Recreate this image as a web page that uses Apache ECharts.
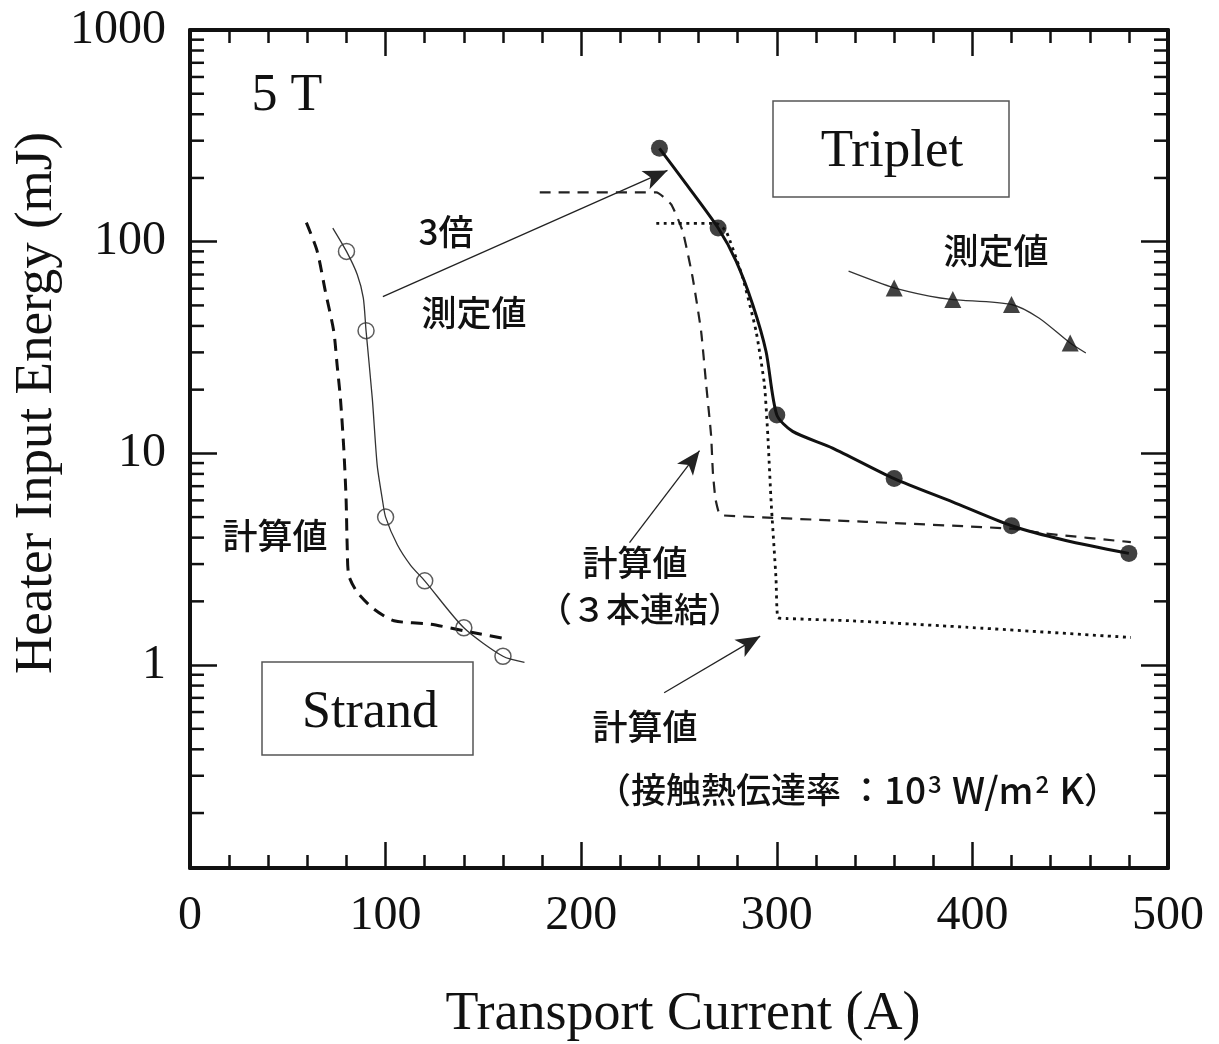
<!DOCTYPE html>
<html>
<head>
<meta charset="utf-8">
<script src="https://cdn.jsdelivr.net/npm/echarts@6/dist/echarts.min.js"></script>
<style>
html, body { margin: 0; padding: 0; background: #fff; }
#chart { width: 1219px; height: 1044px; }
</style>
</head>
<body>
<div id="chart"></div>
<script>
// 刻度
var xTicks = [0, 100, 200, 300, 400, 500];
var yTickLabels = [1, 10, 100, 1000];
var yMinorDecades = [0.1, 1, 10, 100];
var yMinorSteps = [2, 3, 4, 5, 6, 7, 8, 9];

// Strand 測定値 (○) と曲線
var strandMeasI = [80, 90, 100, 120, 140, 160];
var strandMeasE = [90, 38, 5.0, 2.5, 1.5, 1.1];
var strandCurveI = [73, 80, 85.5, 88.6, 90, 93.2, 95.7, 98.3, 100, 106, 112.8, 120, 140, 160, 171];
var strandCurveE = [116, 90, 70, 54.3, 38, 18.2, 8.8, 6.1, 5.0, 3.7, 2.96, 2.5, 1.5, 1.1, 1.03];
// Strand 計算値 (破線)
var strandCalcI = [59.5, 65, 69.2, 73.5, 75.2, 76.9, 78.6, 79.8, 80.4, 81.2, 85.5, 94, 104.3, 123.1, 140.2, 161.5];
var strandCalcE = [123, 90.3, 58.3, 37.7, 26.2, 18.2, 10.6, 6.1, 3.55, 2.65, 2.21, 1.84, 1.62, 1.56, 1.45, 1.33];

// Triplet 測定値 (●) と曲線
var tripMeasI = [240, 270, 300, 360, 420, 480];
var tripMeasE = [276, 116, 15.2, 7.6, 4.55, 3.37];
var tripCurveI = [240, 253.7, 270, 279.2, 287.7, 294.5, 300, 308.1, 328.5, 360, 389.8, 420, 447.7, 480];
var tripCurveE = [276, 187, 116, 81, 50.4, 30.3, 15.2, 12.7, 10.6, 7.6, 5.9, 4.55, 3.88, 3.37];
// Triplet 測定値 (▲)
var tripTriI = [360, 390, 420, 450];
var tripTriE = [60.5, 53.3, 50.5, 33.2];
var tripTriCurveI = [336.7, 360, 378, 390, 420, 434, 450, 458];
var tripTriCurveE = [72.6, 60.5, 55.3, 53.3, 50.5, 43.6, 33.2, 29.8];
// Triplet 計算値 (3本連結, 破線)
var trip3I = [178.8, 238.4, 246, 251.9, 257, 261.3, 263.9, 266.4, 267.3, 268.6, 270.2, 271.5, 345.6, 419.8, 437.5, 481];
var trip3E = [171, 171, 150, 112, 67.5, 37.8, 21.1, 12.2, 8.19, 6.12, 5.31, 5.10, 4.75, 4.41, 4.18, 3.81];
// Triplet 計算値 (接触熱伝達率, 点線)
var tripCI = [238.4, 269, 274.1, 282.6, 289.4, 293.7, 295.4, 297.1, 299.6, 300.5, 304.7, 337.1, 396.7, 481];
var tripCE = [122, 122, 112, 67.5, 37.8, 21.1, 12.2, 5.9, 2.56, 1.68, 1.66, 1.62, 1.51, 1.35];

// 矢印 (始点 -> 終点)
var arrowFrom = [[98.6, 55], [224.7, 3.79], [242.4, 0.74]];
var arrowTo = [[244.1, 217], [260.5, 10.3], [291.5, 1.37]];

var INK = '#111';
var SERIF = '"Liberation Serif", "Times New Roman", serif';
var GOTHIC = '"Noto Sans CJK JP", sans-serif';

function pairs(xs, ys) {
  return xs.map(function (x, i) { return [x, ys[i]]; });
}

var yMinor = [];
yMinorDecades.forEach(function (d) {
  yMinorSteps.forEach(function (s) {
    var v = +(d * s).toPrecision(3);
    if (v > 0.11 && v < 1000) yMinor.push([0, v]);
  });
});

function xAxisCfg(pos, showLabel) {
  return {
    type: 'value', position: pos, min: 0, max: 500, interval: 100,
    axisLine: { show: true, onZero: false, lineStyle: { color: INK, width: 4 } },
    axisTick: { show: true, inside: true, length: 26, lineStyle: { color: INK, width: 2.5 } },
    minorTick: { show: true, splitNumber: 5, length: 13, lineStyle: { color: INK, width: 2.5 } },
    axisLabel: {
      show: showLabel, margin: 24, color: INK, fontFamily: SERIF, fontSize: 48,
      formatter: function (v) { return xTicks.indexOf(v) >= 0 ? String(v) : ''; }
    },
    splitLine: { show: false },
    minorSplitLine: { show: false }
  };
}

function yAxisCfg(pos, showLabel) {
  return {
    type: 'log', logBase: 10, position: pos, min: 0.11, max: 1000,
    axisLine: { show: true, onZero: false, lineStyle: { color: INK, width: 4 } },
    axisTick: { show: true, inside: true, length: 27, lineStyle: { color: INK, width: 2.5 } },
    axisLabel: {
      show: showLabel, margin: 24, color: INK, fontFamily: SERIF, fontSize: 48,
      formatter: function (v) {
        var r = Math.round(v);
        return (yTickLabels.indexOf(r) >= 0 && Math.abs(v - r) < 1e-6) ? String(r) : '';
      }
    },
    splitLine: { show: false }
  };
}

function lineSeries(data, style, extra) {
  var s = {
    type: 'line', data: data, showSymbol: false, symbol: 'none',
    smooth: 0.25, silent: true, lineStyle: style,
    xAxisIndex: 0, yAxisIndex: 0, z: 3
  };
  for (var k in extra) s[k] = extra[k];
  return s;
}

function label(x, y, text, font, align) {
  return {
    type: 'text', x: x, y: y,
    style: {
      text: text, font: font, fill: INK,
      align: align || 'center', verticalAlign: 'middle',
      textAlign: align || 'center', textVerticalAlign: 'middle'
    }
  };
}

var JP = '500 35px ' + GOTHIC;

var chart = echarts.init(document.getElementById('chart'));

var option = {
  animation: false,
  backgroundColor: '#fff',
  grid: { left: 190, right: 51, top: 30, bottom: 176, containLabel: false },
  xAxis: [
    xAxisCfg('bottom', true),
    xAxisCfg('top', false)
  ],
  yAxis: [
    yAxisCfg('left', true),
    yAxisCfg('right', false)
  ],
  series: [
    // Y 補助目盛 (2..9)
    {
      type: 'custom', coordinateSystem: 'cartesian2d', silent: true, clip: false,
      xAxisIndex: 0, yAxisIndex: 0, data: yMinor, z: 10,
      renderItem: function (params, api) {
        var v = api.value(1);
        var pl = api.coord([0, v]);
        var pr = api.coord([500, v]);
        var st = { stroke: INK, lineWidth: 2.5 };
        return {
          type: 'group',
          children: [
            { type: 'line', shape: { x1: pl[0], y1: pl[1], x2: pl[0] + 14, y2: pl[1] }, style: st },
            { type: 'line', shape: { x1: pr[0], y1: pr[1], x2: pr[0] - 14, y2: pr[1] }, style: st }
          ]
        };
      }
    },
    lineSeries(pairs(strandCalcI, strandCalcE), { color: INK, width: 3, type: [12, 8] }),
    lineSeries(pairs(strandCurveI, strandCurveE), { color: '#333', width: 1.3 }, {
      markLine: {
        silent: true,
        symbol: ['none', 'arrow'],
        symbolSize: [15, 24],
        lineStyle: { color: '#222', width: 1.3, type: 'solid' },
        label: { show: false },
        emphasis: { disabled: true },
        data: arrowFrom.map(function (p, i) {
          return [{ coord: p }, { coord: arrowTo[i] }];
        })
      }
    }),
    {
      type: 'scatter', data: pairs(strandMeasI, strandMeasE), symbol: 'circle', symbolSize: 16,
      silent: true, z: 4,
      itemStyle: { color: 'rgba(255,255,255,0)', borderColor: '#333', borderWidth: 1.5 }
    },
    lineSeries(pairs(trip3I, trip3E), { color: '#222', width: 2.2, type: [11, 8] }, { smooth: 0.15 }),
    lineSeries(pairs(tripCI, tripCE), { color: INK, width: 2.8, type: [3, 4.5] }, { smooth: 0.15 }),
    lineSeries(pairs(tripCurveI, tripCurveE), { color: INK, width: 3 }),
    {
      type: 'scatter', data: pairs(tripMeasI, tripMeasE), symbol: 'circle', symbolSize: 17,
      silent: true, z: 4, itemStyle: { color: INK }
    },
    lineSeries(pairs(tripTriCurveI, tripTriCurveE), { color: '#333', width: 1.3 }),
    {
      type: 'scatter', data: pairs(tripTriI, tripTriE), symbol: 'triangle', symbolSize: 17,
      silent: true, z: 4, itemStyle: { color: INK }
    }
  ],
  graphic: [
    {
      type: 'text', x: 37, y: 403, rotation: Math.PI / 2,
      style: { text: 'Heater Input Energy (mJ)', font: '53px ' + SERIF, fill: INK,
        align: 'center', verticalAlign: 'middle', textAlign: 'center', textVerticalAlign: 'middle' }
    },
    label(683, 1015, 'Transport Current (A)', '54px ' + SERIF),
    label(287, 96, '5 T', '52px ' + SERIF),
    {
      type: 'rect', shape: { x: 773, y: 101, width: 236, height: 96 },
      style: { fill: 'none', stroke: '#555', lineWidth: 1.5 }
    },
    label(892, 152, 'Triplet', '53px ' + SERIF),
    {
      type: 'rect', shape: { x: 262, y: 662, width: 211, height: 93 },
      style: { fill: 'none', stroke: '#555', lineWidth: 1.5 }
    },
    label(370, 713, 'Strand', '52px ' + SERIF),
    label(446, 232, '3倍', JP),
    label(474, 313, '測定値', JP),
    label(275, 536, '計算値', JP),
    label(996, 251, '測定値', JP),
    label(635, 563, '計算値', JP),
    label(538, 609, '（３本連結）', '500 34px ' + GOTHIC, 'left'),
    label(645, 727, '計算値', JP),
    {
      type: 'text', x: 596, y: 790,
      style: {
        text: '{n|（接触熱伝達率 ：}{l|10}{s|3}{l| W/m}{s|2}{l| K}{n|）}',
        fill: INK, align: 'left', verticalAlign: 'middle', textAlign: 'left', textVerticalAlign: 'middle',
        rich: {
          n: { font: JP, fill: INK },
          l: { font: '500 37px ' + GOTHIC, fill: INK },
          s: { font: '500 24px ' + GOTHIC, fill: INK, verticalAlign: 'top', padding: [0, 2, 0, 2] }
        }
      }
    }
  ]
};

chart.setOption(option);
</script>
</body>
</html>
